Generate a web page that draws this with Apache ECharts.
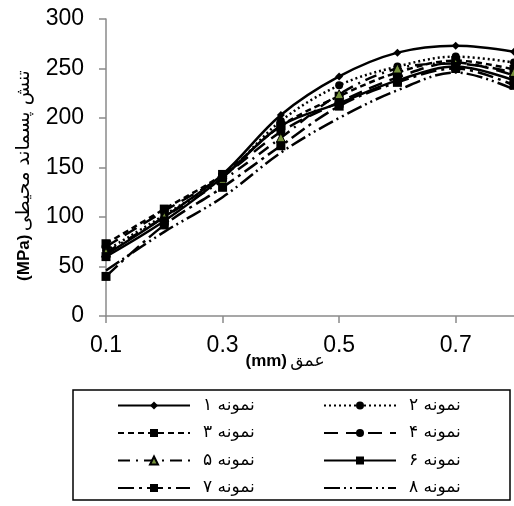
<!DOCTYPE html>
<html>
<head>
<meta charset="utf-8">
<script src="https://cdn.jsdelivr.net/npm/echarts@6/dist/echarts.min.js"></script>
<style>
  html, body { margin: 0; padding: 0; background: #fff; }
  #chart { width: 514px; height: 506px; }
</style>
</head>
<body>
<div id="chart"></div>
<script>
// depth (mm)
const depths = ["0.1", "0.2", "0.3", "0.4", "0.5", "0.6", "0.7", "0.8"];

// residual hoop stress (MPa) per sample
const sample1 = [62, 100, 143, 203, 242, 266, 273, 267];
const sample2 = [66, 102, 140, 197, 233, 252, 262, 256];
const sample3 = [73, 108, 143, 192, 222, 246, 258, 249];
const sample4 = [70, 106, 141, 186, 216, 241, 256, 243];
const sample5 = [64, 100, 137, 180, 224, 250, 255, 246];
const sample6 = [60, 96, 140, 192, 215, 238, 252, 238];
const sample7 = [40, 92, 130, 172, 212, 236, 250, 233];
const sample8 = [46, 85, 120, 165, 200, 228, 246, 229];

const names = ["نمونه ۱", "نمونه ۲", "نمونه ۳", "نمونه ۴", "نمونه ۵", "نمونه ۶", "نمونه ۷", "نمونه ۸"];
const yTicks = [0, 50, 100, 150, 200, 250, 300];

const font = "'Liberation Sans', Arial, 'DejaVu Sans', sans-serif";
const faFont = "'DejaVu Sans', sans-serif";
const axisGray = "#8a8a8a";

const makeSeries = (name, data, symbol, symbolSize, dash, color) => ({
  name,
  type: "line",
  data,
  smooth: 0.35,
  symbol,
  symbolSize,
  showAllSymbol: true,
  lineStyle: { color: "#000", width: 2.5, type: dash, cap: "butt" },
  itemStyle: { color: color || "#000", borderColor: "#000", borderWidth: color ? 1 : 0 },
  emphasis: { disabled: true },
});

const legendColumn = (data, left) => ({
  data,
  orient: "vertical",
  left,
  top: 392,
  height: 110,
  itemWidth: 72,
  itemHeight: 10,
  itemGap: 10.5,
  textStyle: { fontSize: 17, lineHeight: 16, color: "#000", fontFamily: faFont, padding: [0, 0, 0, 8] },
  selectedMode: false,
});

const chart = echarts.init(document.getElementById("chart"), null, { renderer: "canvas" });

const option = {
  animation: false,
  backgroundColor: "#fff",
  textStyle: { fontFamily: font },
  grid: { left: 106, right: 0, top: 19, bottom: 190 },
  xAxis: {
    type: "category",
    data: depths,
    boundaryGap: false,
    name: "{b|(mm)} {n|عمق}",
    nameLocation: "middle",
    nameGap: 37,
    nameMoveOverlap: false,
    nameTextStyle: {
      padding: [0, 50, 0, 0],
      rich: {
        b: { fontSize: 17, fontWeight: "bold", color: "#000", fontFamily: font },
        n: { fontSize: 17, color: "#000", fontFamily: faFont },
      },
    },
    axisLine: { lineStyle: { color: axisGray, width: 1.5 } },
    axisTick: { interval: 1, length: 7, lineStyle: { color: axisGray, width: 1.5 } },
    axisLabel: { interval: 1, color: "#000", fontSize: 23, margin: 18, fontFamily: font },
    splitLine: { show: false },
  },
  yAxis: {
    type: "value",
    min: yTicks[0],
    max: yTicks[yTicks.length - 1],
    interval: 50,
    name: "{b|(MPa)} {n|تنش پسماند محیطی}",
    nameLocation: "middle",
    nameRotate: 90,
    nameGap: 72,
    nameMoveOverlap: false,
    nameTextStyle: {
      padding: [0, 16, 0, 0],
      rich: {
        b: { fontSize: 17, fontWeight: "bold", color: "#000", fontFamily: font },
        n: { fontSize: 19, color: "#000", fontFamily: faFont },
      },
    },
    axisLine: { show: true, lineStyle: { color: axisGray, width: 1.5 } },
    axisTick: { show: true, length: 7, lineStyle: { color: axisGray, width: 1.5 } },
    axisLabel: { color: "#000", fontSize: 23, margin: 22, fontFamily: font },
    splitLine: { show: false },
  },
  legend: [
    legendColumn([names[0], names[2], names[4], names[6]], 112),
    legendColumn([names[1], names[3], names[5], { name: names[7], itemStyle: { opacity: 0 } }], 318),
  ],
  graphic: [
    {
      type: "rect",
      shape: { x: 73, y: 390, width: 437, height: 110 },
      style: { fill: "none", stroke: "#000", lineWidth: 1.5 },
      silent: true,
    },
  ],
  series: [
    makeSeries(names[0], sample1, "diamond", 8, "solid"),
    makeSeries(names[1], sample2, "circle", 8, [2, 3]),
    makeSeries(names[2], sample3, "rect", 9, [6, 4]),
    makeSeries(names[3], sample4, "circle", 9, [14, 8]),
    makeSeries(names[4], sample5, "triangle", 9, [12, 6, 2, 6], "#77933c"),
    makeSeries(names[5], sample6, "rect", 9, "solid"),
    makeSeries(names[6], sample7, "rect", 9, [16, 5, 3, 5]),
    makeSeries(names[7], sample8, "none", 4, [16, 4, 2, 4, 2, 4]),
  ],
};

chart.setOption(option);
</script>
</body>
</html>
